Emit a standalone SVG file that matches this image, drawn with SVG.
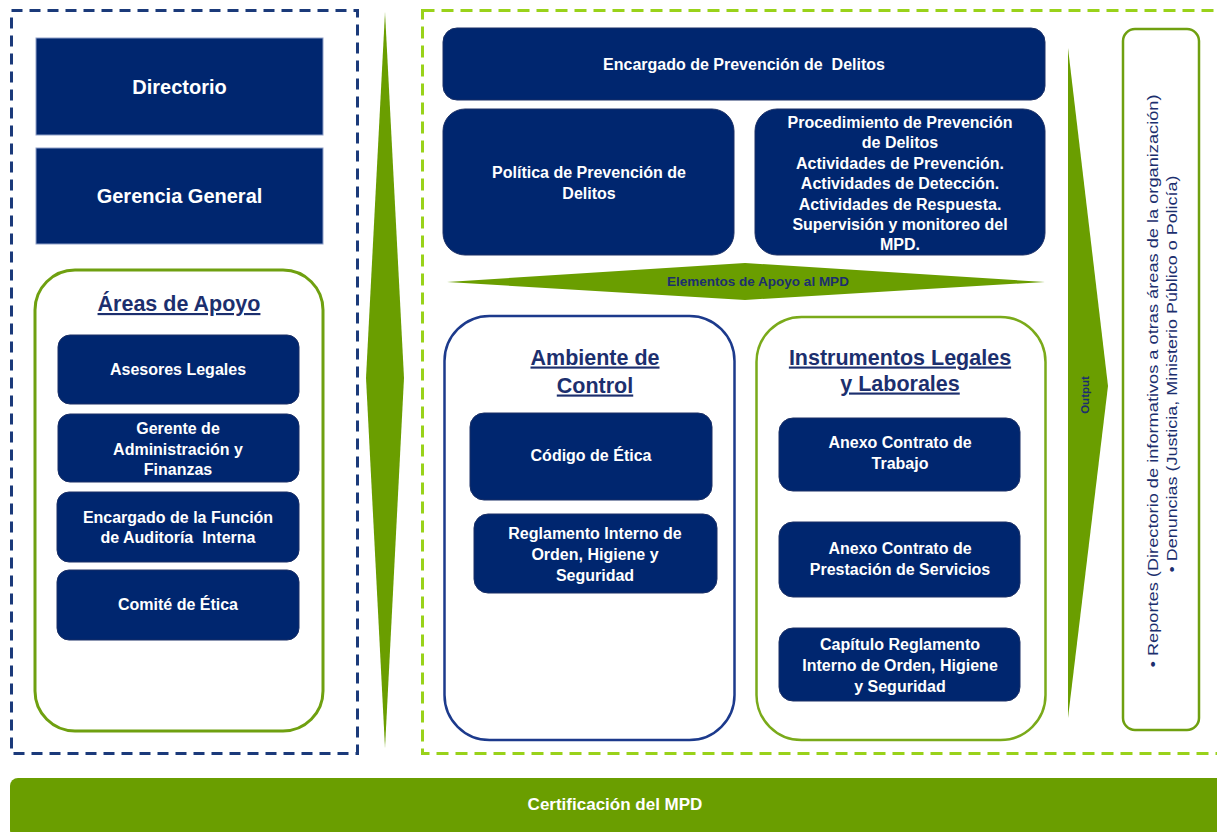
<svg xmlns="http://www.w3.org/2000/svg" width="1217" height="832" viewBox="0 0 1217 832">
<style>
.t{font-family:"Liberation Sans",Arial,sans-serif;font-weight:bold;fill:#fff;text-anchor:middle;white-space:pre}
.box{fill:#00266f;stroke:#1a2f66;stroke-width:1}
.b16{font-size:16px}
.ttl{font-family:"Liberation Sans",Arial,sans-serif;font-weight:bold;fill:#1c2f6e;text-anchor:middle;font-size:21.5px;text-decoration:underline}
.nav{font-family:"Liberation Sans",Arial,sans-serif;fill:#1c2f6e;text-anchor:middle}
</style>
<rect width="1217" height="832" fill="#fff"/>
<g id="frames">
<rect x="11.5" y="10.5" width="346" height="743" fill="none" stroke="#1b3a7a" stroke-width="3" stroke-dasharray="11 7"/>
<rect x="422.5" y="10.5" width="810" height="743" fill="none" stroke="#99d21a" stroke-width="3" stroke-dasharray="12 7"/>
</g>
<g id="connectors">
<polygon points="385,12 404,378 385,748 366,378" fill="#6a9e00"/>
<polygon points="447,282 745,263 1045,282 745,300" fill="#6a9e00"/>
<polygon points="1068,48 1108,386 1068,718" fill="#6a9e00"/>
<text class="nav" x="758" y="286" font-size="13.5" font-weight="bold">Elementos de Apoyo al MPD</text>
<text class="nav" font-size="11.5" font-weight="bold" transform="translate(1089,395) rotate(-90)">Output</text>
</g>
<g id="directorio">
<rect x="36" y="38" width="287" height="97" fill="#00266f" stroke="#8fa0c8" stroke-width="1"/>
<text class="t" x="179.5" y="93.5" font-size="20">Directorio</text>
</g>
<g id="gerencia">
<rect x="36" y="148" width="287" height="96" fill="#00266f" stroke="#8fa0c8" stroke-width="1"/>
<text class="t" x="179.5" y="203" font-size="20">Gerencia General</text>
</g>
<g id="areas-apoyo">
<rect x="35" y="270" width="288" height="461" rx="40" fill="#fff" stroke="#6fa010" stroke-width="3"/>
<text class="ttl" x="179" y="311">Áreas de Apoyo</text>
</g>
<g id="asesores">
<rect class="box" x="58" y="335" width="241" height="69" rx="12"/>
<text class="t b16" x="178" y="375">Asesores Legales</text>
</g>
<g id="gerente-adm">
<rect class="box" x="58" y="414" width="241" height="68" rx="12"/>
<text class="t b16" x="178" y="433.5">Gerente de</text>
<text class="t b16" x="178" y="454.5">Administración y</text>
<text class="t b16" x="178" y="474.5">Finanzas</text>
</g>
<g id="auditoria">
<rect class="box" x="57" y="492" width="242" height="70" rx="12"/>
<text class="t b16" x="178" y="522.5">Encargado de la Función</text>
<text class="t b16" x="178" y="542.5" xml:space="preserve">de Auditoría  Interna</text>
</g>
<g id="comite">
<rect class="box" x="57" y="570" width="242" height="70" rx="12"/>
<text class="t b16" x="178" y="609.5">Comité de Ética</text>
</g>
<g id="encargado-prev">
<rect class="box" x="443" y="28" width="602" height="72" rx="14"/>
<text class="t b16" x="744" y="69.5" xml:space="preserve">Encargado de Prevención de  Delitos</text>
</g>
<g id="politica">
<rect class="box" x="443" y="109" width="291" height="146" rx="22"/>
<text class="t b16" x="589" y="177.5">Política de Prevención de</text>
<text class="t b16" x="589" y="198.5">Delitos</text>
</g>
<g id="procedimiento">
<rect class="box" x="755" y="109" width="290" height="146" rx="22"/>
<text class="t b16" x="900" y="127.5">Procedimiento de Prevención</text>
<text class="t b16" x="900" y="147.5">de Delitos</text>
<text class="t b16" x="900" y="168.5">Actividades de Prevención.</text>
<text class="t b16" x="900" y="188.5">Actividades de Detección.</text>
<text class="t b16" x="900" y="209.5">Actividades de Respuesta.</text>
<text class="t b16" x="900" y="229.5">Supervisión y monitoreo del</text>
<text class="t b16" x="900" y="249.5">MPD.</text>
</g>
<g id="ambiente">
<rect x="444.5" y="316" width="290" height="424" rx="45" fill="#fff" stroke="#1c3a8c" stroke-width="2.5"/>
<text class="ttl" x="595" y="364.5">Ambiente de</text>
<text class="ttl" x="595" y="392.5">Control</text>
</g>
<g id="codigo">
<rect class="box" x="470" y="413" width="242" height="87" rx="14"/>
<text class="t b16" x="591" y="460.5">Código de Ética</text>
</g>
<g id="reglamento">
<rect class="box" x="474" y="514" width="243" height="79" rx="14"/>
<text class="t b16" x="595" y="538.5">Reglamento Interno de</text>
<text class="t b16" x="595" y="559.5">Orden, Higiene y</text>
<text class="t b16" x="595" y="580.5">Seguridad</text>
</g>
<g id="instrumentos">
<rect x="756.5" y="317" width="289" height="423" rx="45" fill="#fff" stroke="#7aaa1a" stroke-width="2.5"/>
<text class="ttl" x="900" y="364.5">Instrumentos Legales</text>
<text class="ttl" x="900" y="390.5">y Laborales</text>
</g>
<g id="anexo-trabajo">
<rect class="box" x="779" y="418" width="241" height="73" rx="14"/>
<text class="t b16" x="900" y="447.5">Anexo Contrato de</text>
<text class="t b16" x="900" y="468.5">Trabajo</text>
</g>
<g id="anexo-prestacion">
<rect class="box" x="779" y="522" width="241" height="75" rx="14"/>
<text class="t b16" x="900" y="553.5">Anexo Contrato de</text>
<text class="t b16" x="900" y="574.5">Prestación de Servicios</text>
</g>
<g id="capitulo">
<rect class="box" x="779" y="628" width="241" height="73" rx="14"/>
<text class="t b16" x="900" y="649.5">Capítulo Reglamento</text>
<text class="t b16" x="900" y="670.5">Interno de Orden, Higiene</text>
<text class="t b16" x="900" y="691.5">y Seguridad</text>
</g>
<g id="output-box">
<rect x="1123" y="29" width="76" height="701" rx="12" fill="#fff" stroke="#6fa010" stroke-width="2.5"/>
<text class="nav" font-size="15" transform="translate(1158,381) rotate(-90)" textLength="573" lengthAdjust="spacingAndGlyphs">• Reportes (Directorio de informativos a otras áreas de la organización)</text>
<text class="nav" font-size="15" transform="translate(1177,374) rotate(-90)" textLength="397" lengthAdjust="spacingAndGlyphs">• Denuncias (Justicia, Ministerio Público o Policía)</text>
</g>
<g id="certificacion">
<rect x="10" y="778" width="1217" height="60" rx="8" fill="#6a9e00"/>
<text class="t" x="615" y="810" font-size="17">Certificación del MPD</text>
</g>
</svg>
